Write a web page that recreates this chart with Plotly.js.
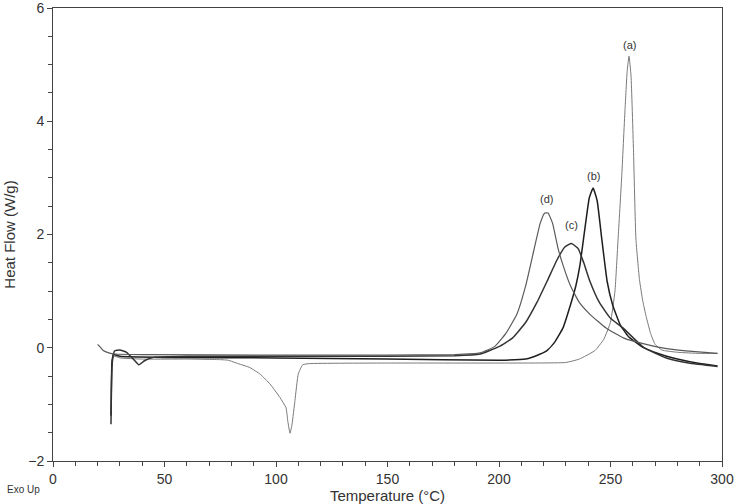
<!DOCTYPE html>
<html>
<head>
<meta charset="utf-8">
<script src="https://cdn.plot.ly/plotly-3.0.1.min.js"></script>
<style>
  html, body { margin: 0; padding: 0; background: #fff; }
  #dsc-plot { width: 736px; height: 504px; }
</style>
</head>
<body>
<div id="dsc-plot"></div>
<script>
// Curve (a): melting dip near 105 °C, sharp exotherm near 258 °C
const tempA = [26.2, 26.5, 27.5, 30, 40, 60, 75, 78.5, 83, 88.3, 93, 97.3, 101.8, 104.5, 105.3, 106.3, 107.2, 108.5, 110, 112, 115, 150, 200, 230, 236, 243, 247, 250, 252, 253.4, 255, 256.5, 257.5, 258.3, 259.2, 260.3, 261.4, 263, 264.5, 266, 268, 270, 273, 280, 290, 298];
const flowA = [-0.8, -0.2, -0.15, -0.18, -0.2, -0.2, -0.21, -0.22, -0.28, -0.35, -0.47, -0.64, -0.88, -1.06, -1.3, -1.51, -1.35, -0.93, -0.46, -0.3, -0.28, -0.27, -0.27, -0.26, -0.2, -0.05, 0.15, 0.45, 1.0, 1.92, 3.0, 4.2, 4.9, 5.15, 4.8, 3.5, 1.92, 1.2, 0.82, 0.55, 0.25, 0.06, -0.04, -0.08, -0.1, -0.1];

// Curve (b)
const tempB = [26, 26.4, 27, 30, 50, 100, 150, 200, 212, 218, 221.5, 225, 228.7, 232, 234.5, 236.3, 238.5, 240.5, 242.2, 244, 246, 248.5, 251, 254.3, 258, 264, 272, 280, 290, 298];
const flowB = [-1.2, -0.3, -0.12, -0.15, -0.17, -0.18, -0.2, -0.22, -0.2, -0.12, -0.05, 0.1, 0.35, 0.75, 1.1, 1.46, 2.1, 2.65, 2.82, 2.6, 1.95, 1.17, 0.75, 0.41, 0.2, 0.02, -0.11, -0.2, -0.28, -0.32];

// Curve (c): small dip near 38 °C
const tempC = [26, 26.5, 27.5, 30, 33, 36, 38.5, 41, 45, 60, 100, 150, 180, 191.5, 200, 206, 212, 217, 221.5, 226, 229.5, 232.5, 235.5, 238, 240.8, 245, 250, 255.6, 265, 275, 285, 298];
const flowC = [-1.35, -0.3, -0.06, -0.04, -0.08, -0.2, -0.3, -0.23, -0.17, -0.15, -0.15, -0.15, -0.14, -0.11, 0.02, 0.17, 0.45, 0.8, 1.17, 1.55, 1.78, 1.84, 1.75, 1.5, 1.17, 0.8, 0.52, 0.35, 0.0, -0.18, -0.27, -0.33];

// Curve (d)
const tempD = [20, 21, 22.5, 25, 28, 40, 100, 150, 180, 191.5, 198, 203, 208, 212, 215.5, 218.5, 220.5, 222, 224, 226.5, 228.7, 232, 236, 240.8, 248, 256, 266, 276, 288, 298];
const flowD = [0.06, 0.02, -0.05, -0.09, -0.11, -0.12, -0.13, -0.13, -0.12, -0.09, 0.02, 0.25, 0.59, 1.1, 1.7, 2.2, 2.38, 2.38, 2.2, 1.75, 1.46, 1.1, 0.8, 0.59, 0.35, 0.17, 0.06, -0.02, -0.07, -0.1];

// Peak labels
const labelText = ['(a)', '(b)', '(c)', '(d)'];
const labelTemp = [258.3, 242.2, 232.7, 221.5];
const labelFlow = [5.35, 3.04, 2.17, 2.62];

const data = [
    {x: tempA, y: flowA, mode: 'lines', line: {color: '#7a7a7a', width: 1, shape: 'spline', smoothing: 0.4}},
    {x: tempB, y: flowB, mode: 'lines', line: {color: '#1e1e1e', width: 1.5, shape: 'spline', smoothing: 0.4}},
    {x: tempC, y: flowC, mode: 'lines', line: {color: '#333333', width: 1.5, shape: 'spline', smoothing: 0.4}},
    {x: tempD, y: flowD, mode: 'lines', line: {color: '#5a5a5a', width: 1.2, shape: 'spline', smoothing: 0.4}}
];

const annotations = labelText.map((t, i) => ({
    x: labelTemp[i], y: labelFlow[i], text: t, showarrow: false,
    font: {size: 11, color: '#333'}
}));
annotations.push({
    xref: 'paper', yref: 'paper', x: -0.072, y: -0.064,
    xanchor: 'left', yanchor: 'middle',
    text: 'Exo Up', showarrow: false,
    font: {size: 10, color: '#333'}
});

const layout = {
    width: 736,
    height: 504,
    showlegend: false,
    font: {family: 'Liberation Sans, Arial, sans-serif', color: '#333'},
    margin: {t: 8, r: 14, b: 43, l: 53},
    plot_bgcolor: '#fff',
    paper_bgcolor: '#fff',
    xaxis: {
        range: [0, 300],
        dtick: 50,
        ticks: 'outside', ticklen: 5, tickcolor: '#444',
        minor: {dtick: 10, ticks: 'outside', ticklen: 4, tickcolor: '#444'},
        showgrid: false, zeroline: false,
        showline: true, linecolor: '#444', linewidth: 1, mirror: true,
        tickfont: {size: 14},
        ticklabeloverflow: 'allow',
        title: {text: 'Temperature (°C)', font: {size: 15}, standoff: 0}
    },
    yaxis: {
        range: [-2, 6],
        dtick: 2,
        ticks: 'outside', ticklen: 5, tickcolor: '#444',
        minor: {dtick: 0.5, ticks: 'outside', ticklen: 4, tickcolor: '#444'},
        showgrid: false, zeroline: false,
        showline: true, linecolor: '#444', linewidth: 1, mirror: true,
        tickfont: {size: 14},
        ticklabeloverflow: 'allow',
        title: {text: 'Heat Flow (W/g)', font: {size: 15}, standoff: 8}
    },
    annotations: annotations
};

Plotly.newPlot('dsc-plot', data, layout, {displayModeBar: false});
</script>
</body>
</html>
